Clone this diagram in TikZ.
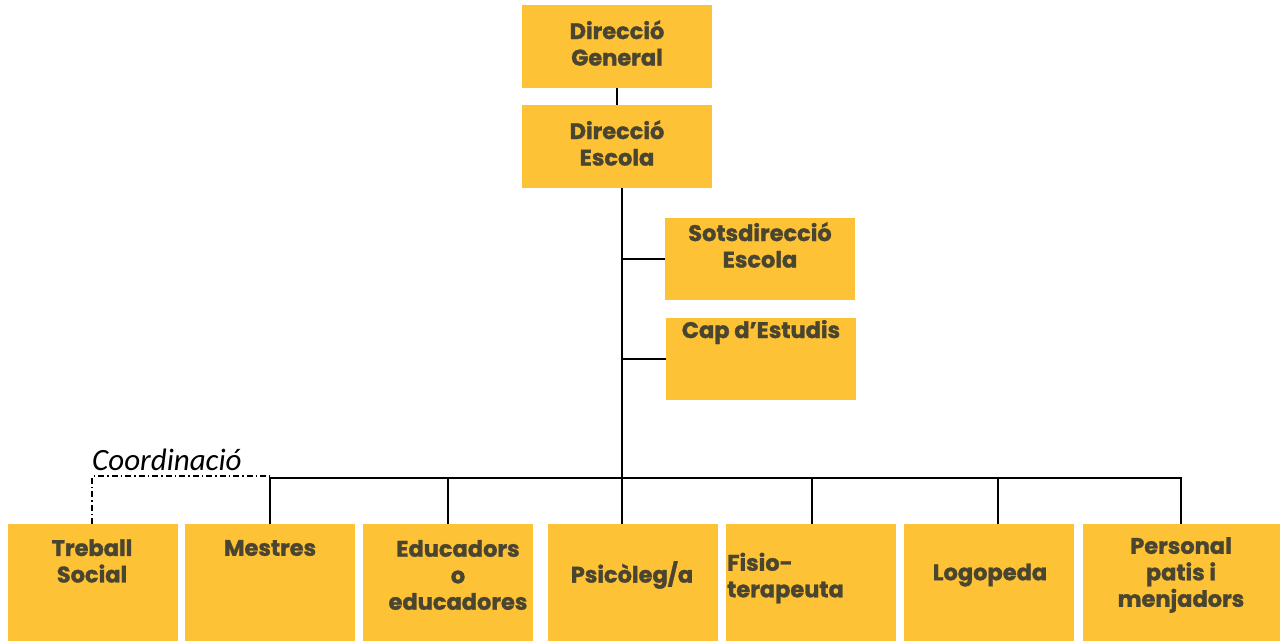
\documentclass[tikz,border=0pt]{standalone}
\usepackage{fontspec}
\setmainfont{Poppins}[BoldFeatures={FakeBold=1.3}]
\newfontfamily\calfont{Carlito}
\definecolor{boxfill}{HTML}{FDC236}
\definecolor{boxtext}{HTML}{4A4530}
\begin{document}
\begin{tikzpicture}[x=1pt,y=-1pt,
  box/.style={fill=boxfill, draw=none, inner sep=0pt, anchor=north west},
  txt/.style={text=boxtext, font=\fontsize{22.5}{26.5}\selectfont\bfseries, align=center, inner sep=0pt},
  conn/.style={line width=1.6pt, black},
  coord/.style={line width=1.4pt, black, dash pattern=on 6pt off 3pt on 1.5pt off 3pt}]
\useasboundingbox (0,0) rectangle (1283,641);
% top boxes
\node[box, minimum width=190pt, minimum height=83pt] (dg) at (522,5) {};
\node[txt] (dgt) at (617,43) {Direcció\\General};
\node[box, minimum width=190pt, minimum height=83pt] (de) at (522,105) {};
\node[txt] (det) at (617,143) {Direcció\\Escola};
\node[box, minimum width=190pt, minimum height=82pt] (sd) at (665,218) {};
\node[txt] (sdt) at (760,245) {Sotsdirecció\\Escola};
\node[box, minimum width=190pt, minimum height=82pt] (ce) at (666,318) {};
\node[txt] (cet) at (761,332) {Cap d’Estudis};
% bottom boxes
\node[box, minimum width=170pt, minimum height=117pt] (ts) at (8,524) {};
\node[txt] (tst) at (92,561) {Treball\\Social};
\node[box, minimum width=170pt, minimum height=117pt] (me) at (185,524) {};
\node[txt] (met) at (270,548) {Mestres};
\node[box, minimum width=170pt, minimum height=117pt] (ed) at (363,524) {};
\node[txt] (edt) at (458,575) {Educadors\\o\\educadores};
\node[box, minimum width=170pt, minimum height=117pt] (ps) at (548,524) {};
\node[txt] (pst) at (632,575) {Psicòleg/a};
\node[box, minimum width=170pt, minimum height=117pt] (fi) at (726,524) {};
\node[txt, align=left, anchor=west] (fit) at (727,578) {Fisio-\\terapeuta};
\node[box, minimum width=170pt, minimum height=117pt] (lo) at (904,524) {};
\node[txt] (lot) at (990,575) {Logopeda};
\node[box, minimum width=197pt, minimum height=117pt] (pe) at (1083,524) {};
\node[txt] (pet) at (1181,575) {Personal\\patis i\\menjadors};
% coordinates
\coordinate (bus) at (622,478);
\coordinate (busL) at (270,478);
\coordinate (busR) at (1181,478);
\coordinate (dashL) at (92,476);
% connectors
\draw[conn] (dg.south -| 617,0) -- (de.north -| 617,0);
\draw[conn] (de.south -| bus) -- (ps.north -| bus);
\draw[conn] (sd.west |- 0,259) -- (621,259);
\draw[conn] (ce.west |- 0,359) -- (621,359);
\draw[conn] (me.north -| busL) -- (busL) -- (busR) -- (pe.north -| busR);
\draw[conn] (ed.north -| 448,0) -- (448,478);
\draw[conn] (fi.north -| 812,0) -- (812,478);
\draw[conn] (lo.north -| 998,0) -- (998,478);
\draw[coord] (ts.north -| dashL) -- (dashL) -- (busL |- dashL);
\node[font=\calfont\itshape\fontsize{31}{34}\selectfont, anchor=base west, inner sep=0pt] (cl) at (92,470) {Coordinació};
\end{tikzpicture}
\end{document}
